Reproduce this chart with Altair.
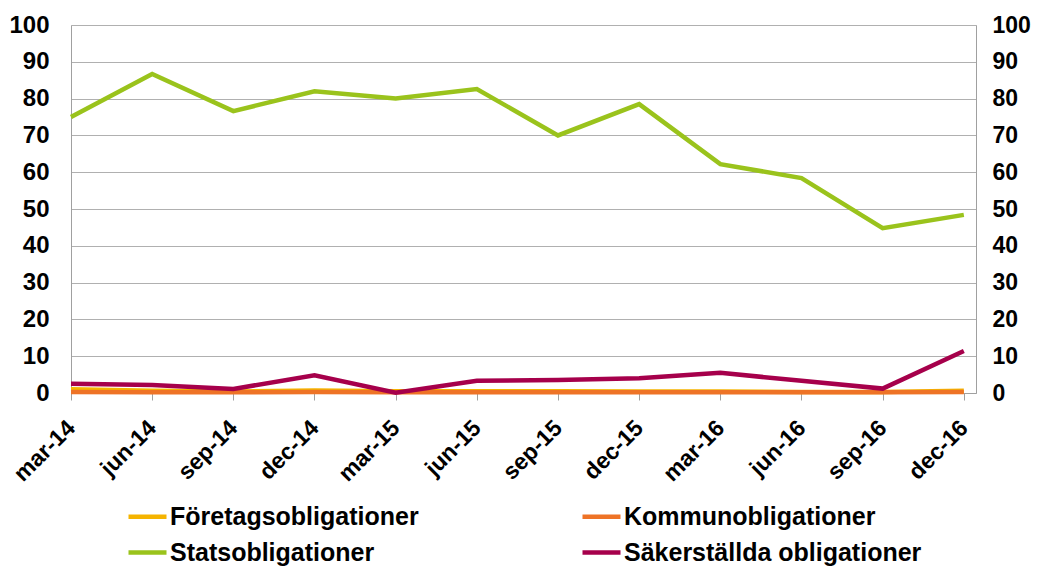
import altair as alt
import pandas as pd

quarters = ["mar-14", "jun-14", "sep-14", "dec-14", "mar-15", "jun-15",
            "sep-15", "dec-15", "mar-16", "jun-16", "sep-16", "dec-16"]
foretag = [1.0, 0.6, 0.4, 0.7, 0.5, 0.5, 0.5, 0.4, 0.4, 0.3, 0.3, 0.6]
kommun = [0.3, 0.2, 0.2, 0.3, 0.2, 0.2, 0.2, 0.2, 0.2, 0.2, 0.2, 0.3]
stats = [75.0, 86.7, 76.6, 82.0, 80.0, 82.6, 70.0, 78.5, 62.2, 58.4, 44.8, 48.4]
sakerstallda = [2.5, 2.2, 1.1, 4.8, 0.1, 3.3, 3.5, 4.0, 5.5, 3.3, 1.2, 11.4]

series_names = ["Företagsobligationer", "Kommunobligationer",
                "Statsobligationer", "Säkerställda obligationer"]
series_values = [foretag, kommun, stats, sakerstallda]
series_colors = ["#f5b400", "#ee7326", "#9ac31c", "#a6004b"]

# legend is filled column by column: order so rows read F, K / S, Sä
legend_order = [0, 2, 1, 3]
legend_domain = [series_names[i] for i in legend_order]
legend_range = [series_colors[i] for i in legend_order]

rows = []
for k, (name, vals) in enumerate(zip(series_names, series_values)):
    for i, (q, v) in enumerate(zip(quarters, vals)):
        rows.append({"idx": i, "kvartal": q, "serie": name, "varde": v, "ord": k})
df = pd.DataFrame(rows)

label_expr = "[" + ",".join("'%s'" % q for q in quarters) + "][datum.value]"

x_enc = alt.X("idx:Q", scale=alt.Scale(domain=[0, 11.15], nice=False, zero=False),
              axis=alt.Axis(values=list(range(len(quarters))), labelExpr=label_expr,
                            labelAngle=315, labelAlign="right", labelBaseline="middle",
                            labelPadding=24, labelOffset=0, labelFontSize=23,
                            labelFontWeight="bold",
                            labelFont="Liberation Sans", labelColor="#000000",
                            tickColor="#a0a0a0", tickSize=7, domainColor="#a0a0a0",
                            grid=False, title=None, labelOverlap=False, labelBound=False))

y_scale = alt.Scale(domain=[0, 100], nice=False)
y_common = dict(values=list(range(0, 101, 10)), labelFontWeight="bold",
                labelFont="Liberation Sans", labelColor="#000000", ticks=False,
                domainColor="#a0a0a0", title=None)

lines = alt.Chart(df).mark_line(strokeWidth=4.5, strokeJoin="miter").encode(
    x=x_enc,
    y=alt.Y("varde:Q", scale=y_scale,
            axis=alt.Axis(orient="left", grid=True, gridColor="#b0b0b0",
                          labelFontSize=24, labelPadding=22, **y_common)),
    color=alt.Color("serie:N", scale=alt.Scale(domain=legend_domain, range=legend_range),
                    legend=alt.Legend(orient="none", legendX=55, legendY=470, columns=2,
                                      columnPadding=154, rowPadding=1, symbolType="stroke",
                                      symbolSize=1444, symbolStrokeWidth=4.5, labelOffset=1,
                                      labelFontSize=25, labelFont="Liberation Sans",
                                      labelFontWeight="bold", labelColor="#000000",
                                      labelLimit=400, title=None)),
    order=alt.Order("ord:Q"),
)

right = alt.Chart(df).mark_line(opacity=0).encode(
    x=x_enc,
    y=alt.Y("varde:Q", scale=y_scale,
            axis=alt.Axis(orient="right", grid=False, labelAlign="left",
                          labelFontSize=23, labelPadding=16, **y_common)),
    detail="serie:N",
)

chart = alt.layer(lines, right).resolve_scale(y="independent").properties(
    width=905, height=368,
    autosize=alt.AutoSizeParams(type="none"),
    padding={"left": 63, "top": 17, "right": 55, "bottom": 173},
).configure_view(stroke=None).configure(background="#ffffff")

chart.save("out.html", embed_options={"renderer": "svg", "actions": False})
